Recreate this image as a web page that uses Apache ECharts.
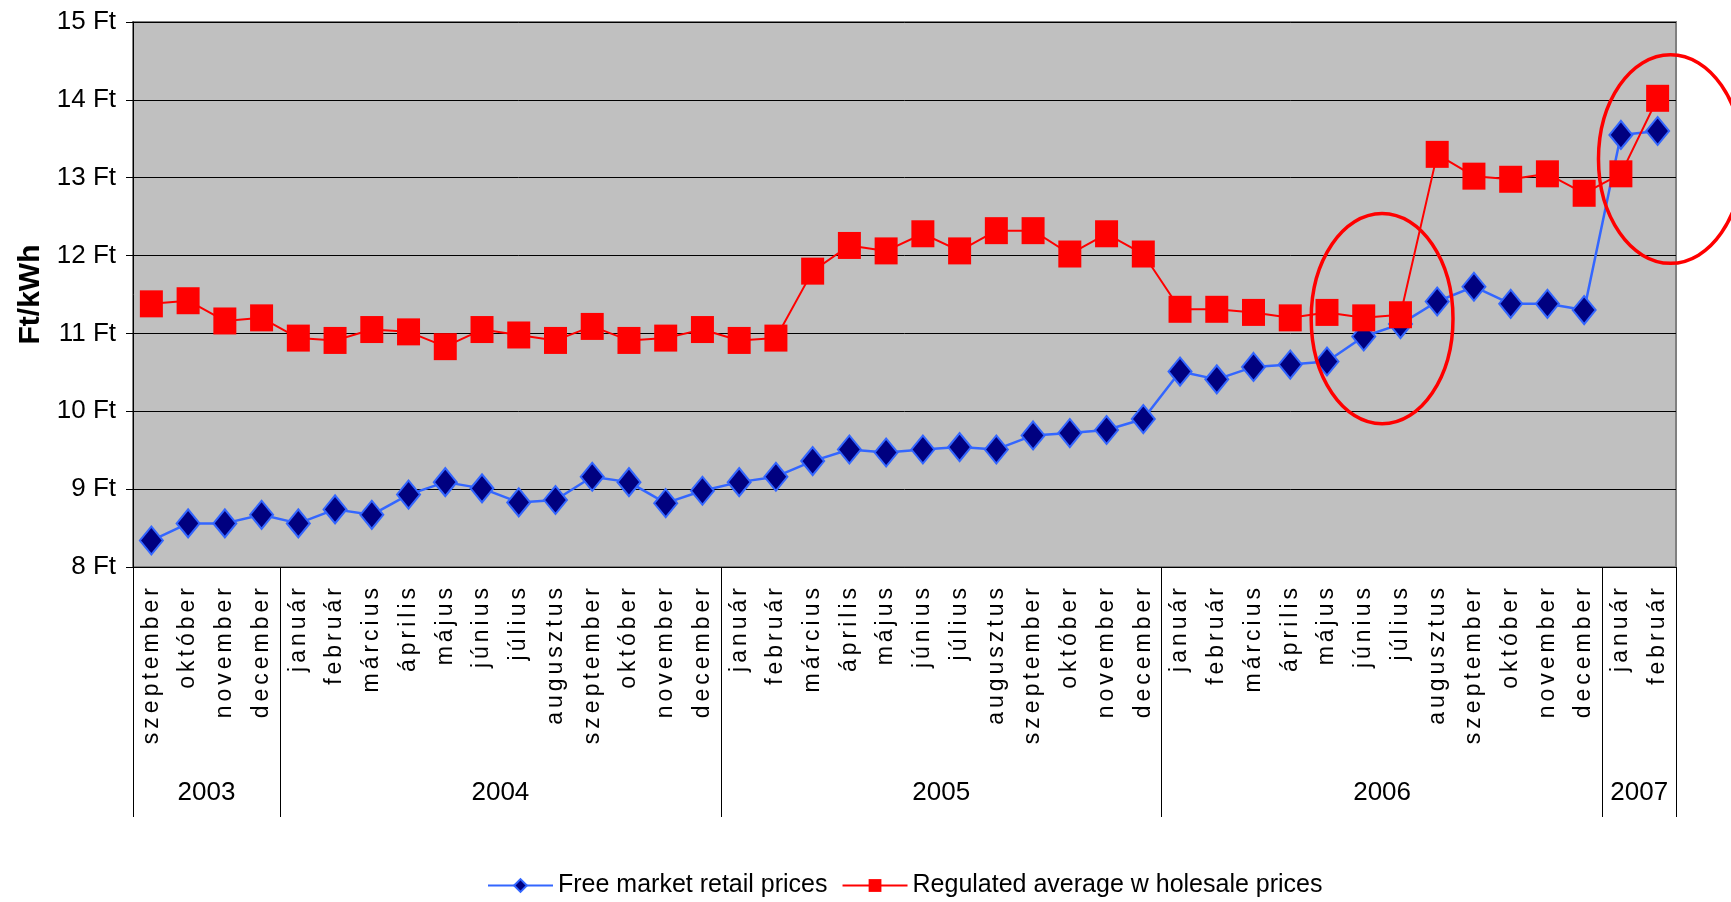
<!DOCTYPE html>
<html>
<head>
<meta charset="utf-8">
<title>Ft/kWh</title>
<script src="https://cdn.jsdelivr.net/npm/echarts@6/dist/echarts.min.js"></script>
<style>
    html, body {margin: 0; padding: 0; background: #fff;}
    #chart {width: 1731px; height: 902px;}
</style>
</head>
<body>
<div id="chart"></div>
<script>
const months = [
    'szeptember', 'október', 'november', 'december',
    'január', 'február', 'március', 'április', 'május', 'június',
    'július', 'augusztus', 'szeptember', 'október', 'november', 'december',
    'január', 'február', 'március', 'április', 'május', 'június',
    'július', 'augusztus', 'szeptember', 'október', 'november', 'december',
    'január', 'február', 'március', 'április', 'május', 'június',
    'július', 'augusztus', 'szeptember', 'október', 'november', 'december',
    'január', 'február'
];
const years = ['2003', '2004', '2005', '2006', '2007'];
const monthsPerYear = [4, 12, 12, 12, 2];
const yTicks = [8, 9, 10, 11, 12, 13, 14, 15];

const freeMarket = [
    8.34, 8.56, 8.56, 8.67, 8.56, 8.74, 8.67, 8.93, 9.09, 9.01,
    8.83, 8.86, 9.16, 9.09, 8.82, 8.98, 9.09, 9.16, 9.36, 9.51,
    9.47, 9.51, 9.54, 9.51, 9.69, 9.72, 9.76, 9.90, 10.51, 10.41,
    10.57, 10.60, 10.64, 10.96, 11.12, 11.41, 11.60, 11.38, 11.38, 11.30,
    13.55, 13.60
];
const regulated = [
    11.38, 11.42, 11.16, 11.20, 10.94, 10.91, 11.05, 11.02, 10.83, 11.05,
    10.98, 10.91, 11.09, 10.91, 10.94, 11.05, 10.91, 10.94, 11.80, 12.13,
    12.06, 12.28, 12.06, 12.32, 12.32, 12.02, 12.28, 12.02, 11.31, 11.31,
    11.27, 11.20, 11.27, 11.20, 11.24, 13.30, 13.02, 12.98, 13.05, 12.80,
    13.05, 14.02
];

// red rings drawn over the chart, in axis units (month index, Ft)
const rings = [
    {x: 34, y: 11.19, rx: 1.93, ry: 1.35},
    {x: 41.85, y: 13.24, rx: 1.96, ry: 1.34}
];

// year boundaries and label positions on the month scale
const yearEdges = [0];
const yearMiddles = [];
monthsPerYear.forEach((n, i) => {
    yearMiddles.push(yearEdges[i] + n / 2);
    yearEdges.push(yearEdges[i] + n);
});

// month names in the original are set with wide letter spacing
const fillText = CanvasRenderingContext2D.prototype.fillText;
CanvasRenderingContext2D.prototype.fillText = function () {
    const spaced = /(^|\s)23px\s/.test(this.font);
    if (spaced) this.letterSpacing = '4px';
    fillText.apply(this, arguments);
    if (spaced) this.letterSpacing = '0px';
};

const sans = 'Arial, "Liberation Sans", sans-serif';

const chart = echarts.init(document.getElementById('chart'));

chart.setOption({
    animation: false,
    grid: {
        left: 133,
        right: 55,
        top: 22,
        bottom: 335,
        show: true,
        backgroundColor: '#C0C0C0',
        borderColor: '#808080',
        borderWidth: 2
    },
    legend: {
        left: 482,
        top: 868,
        itemWidth: 65,
        itemHeight: 16,
        itemGap: 14,
        textStyle: {fontFamily: sans, fontSize: 25, color: '#000'},
        data: ['Free market retail prices', 'Regulated average w holesale prices']
    },
    xAxis: [
        {
            type: 'category',
            data: months,
            position: 'bottom',
            axisLine: {onZero: false, lineStyle: {color: '#000', width: 1}},
            axisTick: {interval: 0, length: 181, lineStyle: {color: '#000', width: 1}},
            axisLabel: {
                interval: 0,
                rotate: 90,
                margin: 17,
                fontFamily: sans,
                fontSize: 23,
                color: '#000'
            }
        },
        {
            type: 'value',
            min: 0,
            max: 42,
            position: 'bottom',
            axisLine: {show: false, onZero: false},
            splitLine: {show: false},
            axisTick: {
                show: true,
                customValues: yearEdges,
                length: 250,
                lineStyle: {color: '#000', width: 1}
            },
            axisLabel: {
                customValues: yearMiddles,
                formatter: v => years[yearMiddles.indexOf(v)],
                margin: 213,
                fontFamily: sans,
                fontSize: 26,
                color: '#000'
            }
        }
    ],
    yAxis: {
        type: 'value',
        min: yTicks[0],
        max: yTicks[yTicks.length - 1],
        interval: 1,
        name: 'Ft/kWh',
        nameLocation: 'middle',
        nameGap: 83,
        nameTextStyle: {fontFamily: sans, fontSize: 30, fontWeight: 'bold', color: '#000'},
        axisLine: {show: true, lineStyle: {color: '#000', width: 1}},
        axisTick: {show: true, length: 7, lineStyle: {color: '#000'}},
        axisLabel: {
            formatter: '{value} Ft',
            margin: 17,
            fontFamily: sans,
            fontSize: 26,
            color: '#000'
        },
        splitLine: {lineStyle: {color: '#000', width: 1}}
    },
    series: [
        {
            name: 'Free market retail prices',
            type: 'line',
            data: freeMarket,
            symbol: 'diamond',
            symbolSize: [23, 28],
            lineStyle: {color: '#3366FF', width: 2.5},
            itemStyle: {color: '#000080', borderColor: '#3366FF', borderWidth: 2},
            z: 2
        },
        {
            name: 'Regulated average w holesale prices',
            type: 'line',
            data: regulated,
            symbol: 'rect',
            symbolSize: [23, 27],
            lineStyle: {color: '#FF0000', width: 2},
            itemStyle: {color: '#FF0000', borderColor: '#FF0000', borderWidth: 0},
            z: 3
        }
    ]
});

const toX = v => chart.convertToPixel({xAxisIndex: 1}, v);
const toY = v => chart.convertToPixel({yAxisIndex: 0}, v);

chart.setOption({
    graphic: rings.map(r => ({
        type: 'ellipse',
        silent: true,
        z: 100,
        shape: {
            cx: toX(r.x),
            cy: toY(r.y),
            rx: toX(r.x + r.rx) - toX(r.x),
            ry: toY(r.y - r.ry) - toY(r.y)
        },
        style: {fill: 'none', stroke: '#FF0000', lineWidth: 3.5}
    }))
});
</script>
</body>
</html>
